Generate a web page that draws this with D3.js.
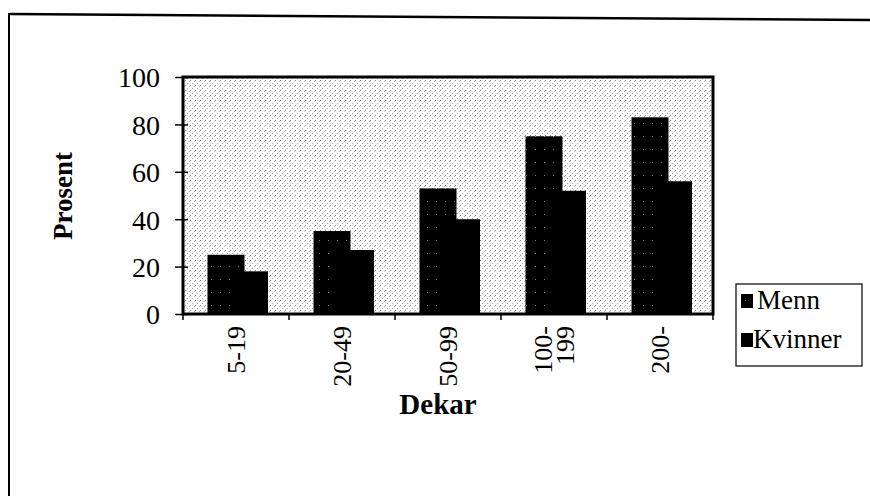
<!DOCTYPE html>
<html>
<head>
<meta charset="utf-8">
<script src="https://cdn.jsdelivr.net/npm/d3@7"></script>
<style>
  body { margin: 0; background: #fff; }
  text { font-family: "Liberation Serif", "Times New Roman", serif; fill: #000; }
</style>
</head>
<body>
<div id="chart"></div>
<script>
// data
var categories = ["5-19", "20-49", "50-99", "100-199", "200-"];
var catLabels = [["5-19"], ["20-49"], ["50-99"], ["100-", "199"], ["200-"]];
var seriesNames = ["Menn", "Kvinner"];
var menn = [25, 35, 53, 75, 83];
var kvinner = [18, 27, 40, 52, 56];
var yTicks = [0, 20, 40, 60, 80, 100];

var W = 870, H = 496;
// plot box (window.top is taken, so own names)
var pL = 183, pR = 713, pT = 77, pB = 314;

var svg = d3.select("#chart")
	.append("svg")
	.attr("width", W)
	.attr("height", H);

// dither-ish fills
var defs = svg.append("defs");
var bg = defs.append("pattern")
	.attr("id", "dots")
	.attr("width", 5).attr("height", 5)
	.attr("patternUnits", "userSpaceOnUse");
bg.append("rect").attr("width", 5).attr("height", 5).attr("fill", "#fff");
bg.append("rect").attr("x", 0).attr("y", 0).attr("width", 1).attr("height", 1).attr("fill", "#888");
bg.append("rect").attr("x", 2).attr("y", 3).attr("width", 1).attr("height", 1).attr("fill", "#aaa");
bg.append("rect").attr("x", 4).attr("y", 1).attr("width", 1).attr("height", 1).attr("fill", "#bbb");

var dark = defs.append("pattern")
	.attr("id", "dark")
	.attr("width", 9).attr("height", 13)
	.attr("patternUnits", "userSpaceOnUse");
dark.append("rect").attr("width", 9).attr("height", 13).attr("fill", "#000");
dark.append("rect").attr("x", 4).attr("y", 6).attr("width", 1).attr("height", 1).attr("fill", "#777");

// outer frame (scanned page border)
svg.append("line")
	.attr("x1", 10).attr("y1", 14).attr("x2", 870).attr("y2", 20)
	.style("stroke", "#000").style("stroke-width", 2.5);
svg.append("line")
	.attr("x1", 9).attr("y1", 13).attr("x2", 9).attr("y2", 496)
	.style("stroke", "#000").style("stroke-width", 2);

var x = d3.scaleBand()
	.domain(categories)
	.range([pL, pR])
	.paddingInner(0)
	.paddingOuter(0);

var xs = d3.scalePoint()
	.domain(seriesNames)
	.range([24.5, 48]);

var barW = 37;

var y = d3.scaleLinear()
	.domain([0, 100])
	.range([pB, pT]);

// plot area
svg.append("rect")
	.attr("x", pL).attr("y", pT)
	.attr("width", pR - pL).attr("height", pB - pT)
	.style("fill", "url(#dots)");

var rows = categories.map(function(c, i) {
	return {cat: c, Menn: menn[i], Kvinner: kvinner[i]};
});

var fills = {Menn: "url(#dark)", Kvinner: "#000"};

seriesNames.forEach(function(s) {
	svg.append("g")
		.selectAll("rect")
		.data(rows)
		.enter()
		.append("rect")
		.attr("x", function(d) { return x(d.cat) + xs(s); })
		.attr("y", function(d) { return y(d[s]); })
		.attr("width", barW)
		.attr("height", function(d) { return y(0) - y(d[s]); })
		.style("fill", fills[s]);
});

// plot border
svg.append("rect")
	.attr("x", pL).attr("y", pT)
	.attr("width", pR - pL).attr("height", pB - pT)
	.style("fill", "none")
	.style("stroke", "#000")
	.style("stroke-width", 3);

// y axis
var yAxis = svg.append("g")
	.attr("transform", "translate(" + pL + ",0)")
	.call(d3.axisLeft(y).tickValues(yTicks).tickSize(8).tickPadding(15));
yAxis.select(".domain").remove();
yAxis.selectAll(".tick line").attr("x2", -8).attr("x1", 5).style("stroke", "#000").style("stroke-width", 1.5);
yAxis.selectAll(".tick text")
	.style("font-size", "28px")
	.style("font-family", "'Liberation Serif', serif")
	.attr("dy", "0.35em");

// x ticks at category boundaries
var bounds = categories.map(function(c) { return x(c); }).concat([pR]);
svg.append("g")
	.selectAll("line")
	.data(bounds)
	.enter()
	.append("line")
	.attr("x1", function(d) { return d; })
	.attr("x2", function(d) { return d; })
	.attr("y1", pB)
	.attr("y2", pB + 6)
	.style("stroke", "#000")
	.style("stroke-width", 1.5);

// x labels (rotated)
var lab = svg.append("g")
	.selectAll("text")
	.data(categories)
	.enter()
	.append("text")
	.attr("transform", function(d) {
		return "translate(" + (x(d) + x.bandwidth() / 2) + "," + (pB + 12) + ") rotate(-90)";
	})
	.attr("text-anchor", "end")
	.style("font-size", "26px");

lab.each(function(d, i) {
	var lines = catLabels[i];
	var t = d3.select(this);
	lines.forEach(function(l, j) {
		t.append("tspan")
			.attr("x", 0)
			.attr("y", (j - (lines.length - 1) / 2) * 22)
			.attr("dy", "0.35em")
			.text(l);
	});
});

// axis titles
svg.append("text")
	.attr("transform", "translate(63,196) rotate(-90)")
	.attr("text-anchor", "middle")
	.attr("dy", "0.35em")
	.style("font-size", "27px")
	.style("font-weight", "bold")
	.text("Prosent");

svg.append("text")
	.attr("x", 438)
	.attr("y", 414)
	.attr("text-anchor", "middle")
	.style("font-size", "29px")
	.style("font-weight", "bold")
	.text("Dekar");

// legend
var lg = svg.append("g");
lg.append("rect")
	.attr("x", 736).attr("y", 284)
	.attr("width", 126).attr("height", 82)
	.style("fill", "#fff")
	.style("stroke", "#000")
	.style("stroke-width", 1.2);

var legItems = lg.selectAll("g")
	.data(seriesNames)
	.enter()
	.append("g")
	.attr("transform", function(d, i) { return "translate(741," + (294 + i * 39) + ")"; });

legItems.append("rect")
	.attr("width", 12)
	.attr("height", 14)
	.style("fill", function(d) { return fills[d]; });

legItems.append("text")
	.attr("x", function(d, i) { return i === 0 ? 16 : 12; })
	.attr("y", 15)
	.style("font-size", "27px")
	.text(function(d) { return d; });
</script>
</body>
</html>
